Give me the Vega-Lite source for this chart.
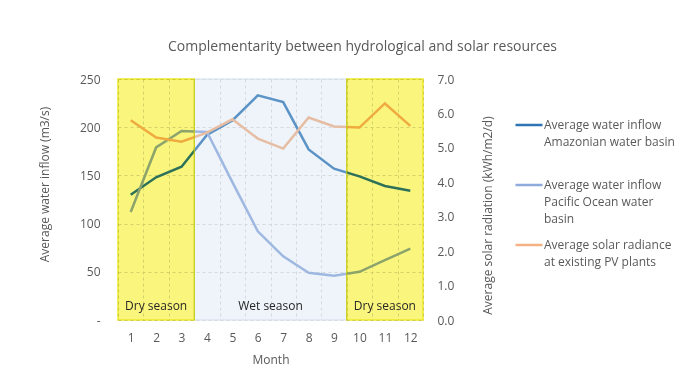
{
  "$schema": "https://vega.github.io/schema/vega-lite/v6.json",
  "width": 305,
  "height": 241,
  "autosize": {"type": "none"},
  "padding": {"left": 118, "top": 79, "right": 260, "bottom": 58},
  "background": "white",
  "config": {
    "font": "Open Sans",
    "view": {"stroke": null},
    "axis": {
      "labelColor": "#595959",
      "titleColor": "#595959",
      "labelFontSize": 12,
      "titleFontSize": 12,
      "titleFontWeight": "normal",
      "ticks": false,
      "tickSize": 0,
      "domain": false,
      "gridColor": "#d9d9d9",
      "gridDash": [3, 3]
    }
  },
  "title": {
    "text": "Complementarity between hydrological and solar resources",
    "fontSize": 14,
    "fontWeight": "normal",
    "color": "#595959",
    "anchor": "middle",
    "dx": 92,
    "offset": 19
  },
  "datasets": {
    "inflow": [
      {"month": 1, "series": "Amazonian", "value": 130},
      {"month": 2, "series": "Amazonian", "value": 148},
      {"month": 3, "series": "Amazonian", "value": 159},
      {"month": 4, "series": "Amazonian", "value": 192},
      {"month": 5, "series": "Amazonian", "value": 207},
      {"month": 6, "series": "Amazonian", "value": 233},
      {"month": 7, "series": "Amazonian", "value": 226},
      {"month": 8, "series": "Amazonian", "value": 177},
      {"month": 9, "series": "Amazonian", "value": 157},
      {"month": 10, "series": "Amazonian", "value": 149},
      {"month": 11, "series": "Amazonian", "value": 139},
      {"month": 12, "series": "Amazonian", "value": 134},
      {"month": 1, "series": "Pacific", "value": 112},
      {"month": 2, "series": "Pacific", "value": 179},
      {"month": 3, "series": "Pacific", "value": 196},
      {"month": 4, "series": "Pacific", "value": 195},
      {"month": 5, "series": "Pacific", "value": 143},
      {"month": 6, "series": "Pacific", "value": 92},
      {"month": 7, "series": "Pacific", "value": 66},
      {"month": 8, "series": "Pacific", "value": 49},
      {"month": 9, "series": "Pacific", "value": 46},
      {"month": 10, "series": "Pacific", "value": 50},
      {"month": 11, "series": "Pacific", "value": 62},
      {"month": 12, "series": "Pacific", "value": 74}
    ],
    "solar": [
      {"month": 1, "series": "Solar", "value": 5.80},
      {"month": 2, "series": "Solar", "value": 5.30},
      {"month": 3, "series": "Solar", "value": 5.18},
      {"month": 4, "series": "Solar", "value": 5.44},
      {"month": 5, "series": "Solar", "value": 5.83},
      {"month": 6, "series": "Solar", "value": 5.27},
      {"month": 7, "series": "Solar", "value": 4.98},
      {"month": 8, "series": "Solar", "value": 5.88},
      {"month": 9, "series": "Solar", "value": 5.62},
      {"month": 10, "series": "Solar", "value": 5.59},
      {"month": 11, "series": "Solar", "value": 6.29},
      {"month": 12, "series": "Solar", "value": 5.64}
    ],
    "seasons": [
      {"season": "Dry season", "kind": "dry", "start": 0.5, "end": 3.5},
      {"season": "Wet season", "kind": "wet", "start": 3.5, "end": 9.5},
      {"season": "Dry season", "kind": "dry", "start": 9.5, "end": 12.5}
    ]
  },
  "layer": [
    {
      "encoding": {
        "x": {
          "field": "month",
          "type": "ordinal",
          "scale": {"paddingInner": 0, "paddingOuter": 0},
          "axis": {
            "title": "Month",
            "labelAngle": 0,
            "grid": true,
            "tickBand": "extent",
            "labelPadding": 12,
            "titleY": 34
          }
        },
        "color": {
          "field": "series",
          "type": "nominal",
          "scale": {
            "domain": ["Amazonian", "Pacific", "Solar"],
            "range": ["#2E75B6", "#8FAADC", "#F4B183"]
          },
          "legend": {
            "orient": "none",
            "legendX": 396,
            "legendY": 31,
            "title": null,
            "symbolType": "stroke",
            "symbolSize": 729,
            "symbolStrokeWidth": 2.5,
            "labelFontSize": 12,
            "labelColor": "#595959",
            "labelBaseline": "middle",
            "labelOffset": 0,
            "labelLimit": 0,
            "rowPadding": 5,
            "padding": 0,
            "encode": {"labels": {"update": {"lineHeight": {"value": 17}}}},
            "labelExpr": "datum.label == 'Amazonian' ? ['Average water inflow', 'Amazonian water basin', ''] : datum.label == 'Pacific' ? ['Average water inflow', 'Pacific Ocean water', 'basin'] : ['Average solar radiance', 'at existing PV plants']"
          }
        }
      },
      "layer": [
        {
          "data": {"name": "inflow"},
          "mark": {"type": "line", "strokeWidth": 2.5},
          "encoding": {
            "y": {
              "field": "value",
              "type": "quantitative",
              "scale": {"domain": [0, 250]},
              "axis": {
                "title": "Average water inflow (m3/s)",
                "values": [0, 50, 100, 150, 200, 250],
                "labelExpr": "datum.value == 0 ? '-' : datum.label",
                "labelPadding": 18,
                "grid": true,
                "titleX": -74,
                "titleY": 105,
                "titleBaseline": "middle"
              }
            }
          }
        },
        {
          "data": {"name": "solar"},
          "mark": {"type": "line", "strokeWidth": 2.5},
          "encoding": {
            "y": {
              "field": "value",
              "type": "quantitative",
              "scale": {"domain": [0, 7]},
              "axis": {
                "orient": "right",
                "title": "Average solar radiation (kWh/m2/d)",
                "values": [0, 1, 2, 3, 4, 5, 6, 7],
                "format": ".1f",
                "grid": false,
                "labelPadding": 14,
                "titleX": 64,
                "titleY": 136,
                "titleAngle": 270,
                "titleBaseline": "middle"
              }
            }
          }
        }
      ],
      "resolve": {"scale": {"y": "independent"}}
    },
    {
      "data": {"name": "seasons"},
      "encoding": {
        "x": {
          "field": "start",
          "type": "quantitative",
          "scale": {"domain": [0.5, 12.5], "nice": false, "zero": false},
          "axis": null
        }
      },
      "layer": [
        {
          "transform": [{"filter": "datum.kind == 'wet'"}],
          "mark": {"type": "rect", "fill": "#c8daf0", "fillOpacity": 0.3, "stroke": "#d3deec", "strokeWidth": 1},
          "encoding": {"x2": {"field": "end"}}
        },
        {
          "transform": [{"filter": "datum.kind == 'dry'"}],
          "mark": {"type": "rect", "fill": "#faf67d", "blend": "multiply", "stroke": "#eeea2a", "strokeWidth": 1.5},
          "encoding": {"x2": {"field": "end"}}
        },
        {
          "transform": [{"calculate": "(datum.start + datum.end) / 2", "as": "mid"}],
          "mark": {"type": "text", "fontSize": 12, "color": "#262626", "baseline": "middle"},
          "encoding": {
            "x": {"field": "mid", "type": "quantitative", "axis": null},
            "y": {"datum": 14.5, "type": "quantitative", "scale": {"domain": [0, 250]}, "axis": null},
            "text": {"field": "season"}
          }
        }
      ]
    }
  ],
  "resolve": {"scale": {"x": "independent", "y": "independent"}}
}
